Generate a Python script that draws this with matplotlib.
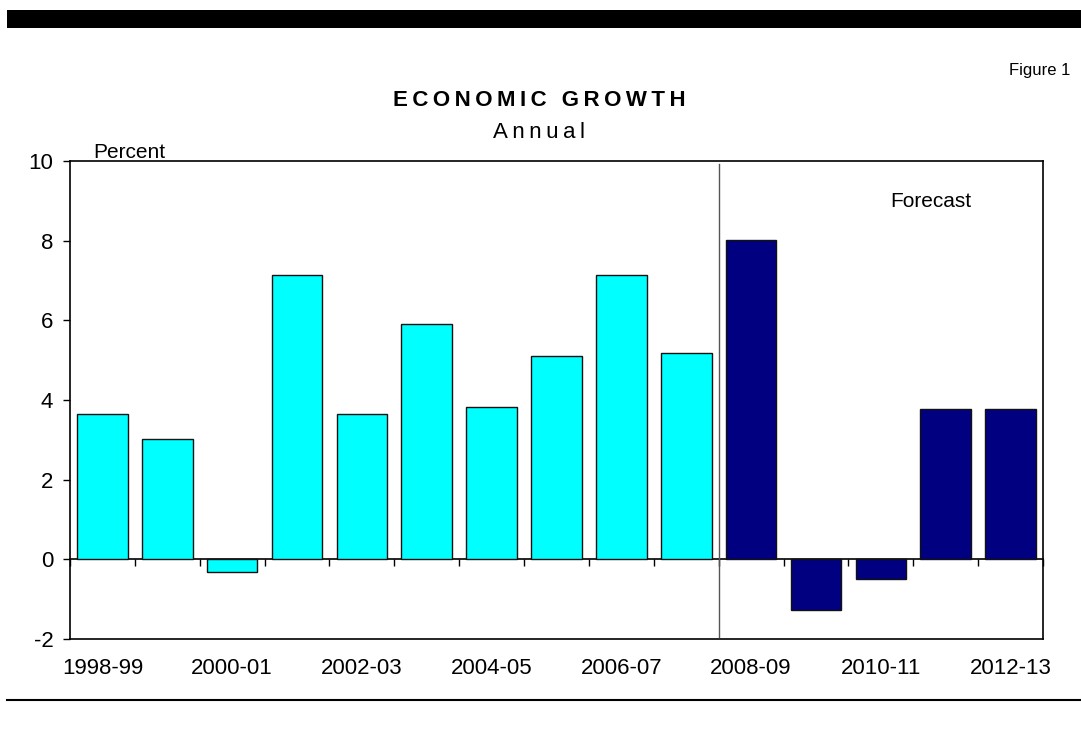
import matplotlib.pyplot as plt

years = ['1998-99', '1999-00', '2000-01', '2001-02', '2002-03', '2003-04',
         '2004-05', '2005-06', '2006-07', '2007-08', '2008-09', '2009-10',
         '2010-11', '2011-12', '2012-13']
growth = [3.64, 3.01, -0.31, 7.13, 3.64, 5.92, 3.82, 5.1, 7.13, 5.17,
          8.02, -1.26, -0.5, 3.77, 3.77]
n_actual = 10  # bars after this are forecasts

plt.rcParams['font.family'] = ['Liberation Sans', 'DejaVu Sans']
plt.rcParams['axes.unicode_minus'] = False

fig = plt.figure(figsize=(10.81, 7.31), dpi=100)
ax = fig.add_axes([70 / 1081, 1 - 639 / 731, (1043 - 70) / 1081, (639 - 161) / 731])

x = list(range(len(years)))
colors = ['#00FFFF'] * n_actual + ['#000080'] * (len(years) - n_actual)
ax.bar(x, growth, width=0.78, color=colors, edgecolor='#111111', linewidth=1, zorder=3)

ax.set_xlim(-0.5, len(years) - 0.5)
ax.set_ylim(-2, 10)
ax.set_yticks(range(-2, 11, 2))
ax.tick_params(axis='y', direction='out', length=5, width=1, pad=7, labelsize=16)

# category labels under the frame, every other year
ax.set_xticks(x[::2])
ax.set_xticklabels(years[::2])
ax.tick_params(axis='x', length=0, pad=14, labelsize=16)

for s in ax.spines.values():
    s.set_linewidth(1.2)

# zero line with ticks at category boundaries
zero = ax.secondary_xaxis(2 / 12)
zero.set_xticks([i - 0.5 for i in range(len(years) + 1)])
zero.set_xticklabels([])
zero.tick_params(direction='out', length=5, width=1)
zero.spines['bottom'].set_linewidth(1.2)

# forecast divider
ax.plot([n_actual - 0.5, n_actual - 0.5], [-1.95, 9.93], color='#555555', linewidth=1, zorder=4)
ax.text(n_actual + 2.77, 8.98, 'Forecast', ha='center', va='center', fontsize=15)

fig.text(93 / 1081, 1 - 158 / 731, 'Percent', ha='left', va='baseline', fontsize=15)

ts = '\u2009'
fig.text(539 / 1081, 1 - 100 / 731, ts.join('ECONOMIC GROWTH'), ha='center', va='center',
         fontsize=16, fontweight='bold')
fig.text(539 / 1081, 1 - 133 / 731, ts.join('Annual'), ha='center', va='center', fontsize=16)
fig.text(1070 / 1081, 1 - 70 / 731, 'Figure 1', ha='right', va='center', fontsize=12)

# header bar and footer rule
fig.add_artist(plt.Rectangle((7 / 1081, 1 - 28 / 731), 1, 18 / 731, transform=fig.transFigure,
                             color='black', linewidth=0))
fig.add_artist(plt.Line2D([7 / 1081, 1], [1 - 700 / 731, 1 - 700 / 731], transform=fig.transFigure,
                          color='black', linewidth=1.5))

fig.savefig('out.png', dpi=100)
